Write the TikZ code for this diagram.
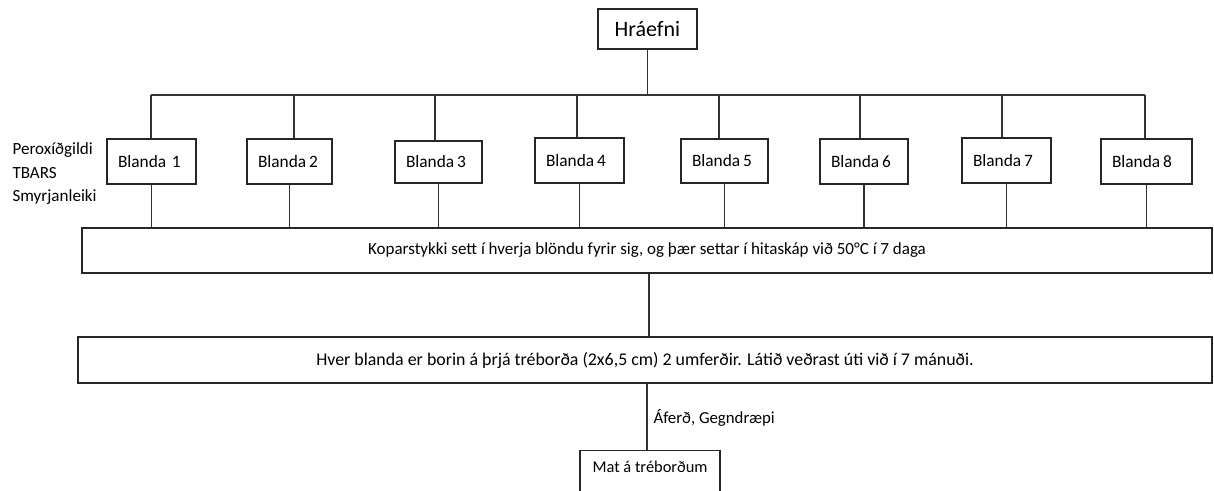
\documentclass[tikz,border=0pt]{standalone}
\usepackage{fontspec}
\setmainfont{Carlito}
\begin{document}
\begin{tikzpicture}[x=0.75pt,y=-0.75pt,
  line width=0.8pt,
  every node/.style={inner sep=0pt},
  box/.style={draw=black!85, line width=0.8pt, rectangle},
  blanda/.style={box, minimum height={45*0.75pt}, minimum width={#1*0.75pt},
    text width={(#1-22)*0.75pt}, inner xsep={11*0.75pt}, align=left,
    font={\fontsize{13}{15}\selectfont}},
  conn/.style={draw=black!80, line width=0.8pt},
  lbl/.style={font={\fontsize{12.8}{17.6}\selectfont}, align=left}
]
\fill[white] (0,0) rectangle (1214,491);
\useasboundingbox (0,0) rectangle (1214,491);
\clip (0,0) rectangle (1214,491);

% top node
\node[box, minimum width={99*0.75pt}, minimum height={40*0.75pt}, font={\fontsize{16.5}{19}\selectfont}] (hr) at (647.5,29) {Hráefni};

% blanda boxes
\node[blanda=89] (b1) at (151.5,161.5) {Blanda 1};
\node[blanda=85] (b2) at (289.5,161.5) {Blanda\,2};
\node[blanda=87, minimum height={42*0.75pt}] (b3) at (438.5,162) {Blanda\,3};
\node[blanda=89] (b4) at (579.5,160.5) {Blanda\,4};
\node[blanda=87, minimum height={44*0.75pt}] (b5) at (724.5,161) {Blanda\,5};
\node[blanda=88] (b6) at (864,161.5) {Blanda\,6};
\node[blanda=89] (b7) at (1006.5,160.5) {Blanda\,7};
\node[blanda=91] (b8) at (1146.5,161.5) {Blanda\,8};

% side label
\node[lbl, anchor=west] (side) at (12,174) {Peroxíðgildi\\TBARS\\Smyrjanleiki};

% wide boxes
\node[box, minimum width={1130*0.75pt}, minimum height={45*0.75pt}, font={\fontsize{12.75}{15}\selectfont}] (kop) at (647,250.5) {Koparstykki sett í hverja blöndu fyrir sig, og þær settar í hitaskáp við 50°C í 7 daga};
\node[box, minimum width={1134*0.75pt}, minimum height={46*0.75pt}, font={\fontsize{13.4}{15}\selectfont}] (hver) at (645,360) {Hver blanda er borin á þrjá tréborða (2x6,5 cm) 2 umferðir. Látið veðrast úti við í 7 mánuði.};

% bottom box (cut by the page edge)
\node[box, minimum width={140*0.75pt}, minimum height={60*0.75pt}, anchor=north] (mat) at (650,450) {};
\node[font={\fontsize{12.3}{15}\selectfont}] (mattext) at (650,467) {Mat á tréborðum};

% bus coordinates
\coordinate (t1) at (151,95);
\coordinate (t2) at (294,95);
\coordinate (t3) at (435,95);
\coordinate (t4) at (577,95);
\coordinate (t5) at (719,95);
\coordinate (t6) at (860,95);
\coordinate (t7) at (1002,95);
\coordinate (t8) at (1145,95);

\draw[conn] (hr.south) -- (hr.south |- t1);
\draw[conn] (t1) -- (t8);
\foreach \i in {1,...,8}{
  \draw[conn] (t\i) -- (t\i |- b\i.north);
  \draw[conn] (b\i.south) -- (b\i.south |- kop.north);
}
\coordinate (k1) at (649,0);
\draw[conn] (k1 |- kop.south) -- (k1 |- hver.north);
\coordinate (k2) at (647,0);
\draw[conn] (k2 |- hver.south) -- (k2 |- mat.north);
\node[font={\fontsize{12.6}{15}\selectfont}, anchor=west] (af) at (653,418) {Áferð, Gegndræpi};
\end{tikzpicture}
\end{document}
